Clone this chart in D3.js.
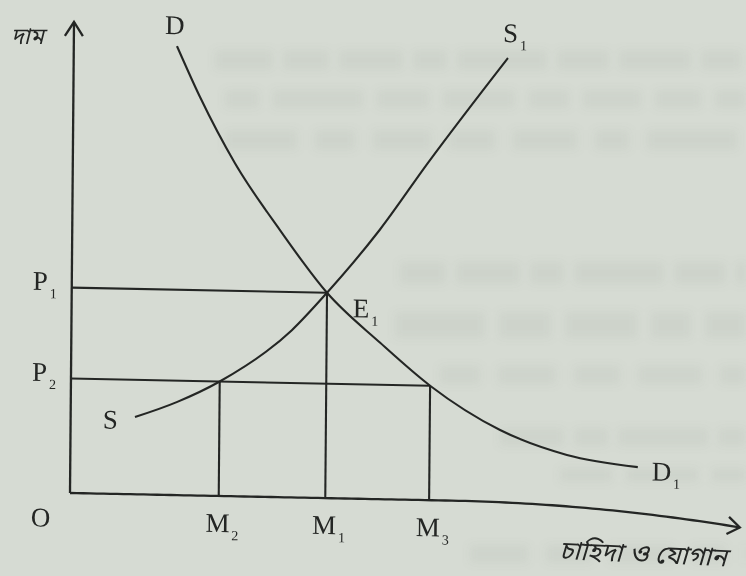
<!DOCTYPE html>
<html>
<head>
<meta charset="utf-8">
<script src="https://cdn.jsdelivr.net/npm/d3@7"></script>
<style>
  html, body { margin: 0; padding: 0; background: #d6dbd3; }
  svg { display: block; }
</style>
</head>
<body>
<svg id="chart" width="746" height="576"></svg>
<script>
// Market diagram: demand curve D–D1, supply curve S–S1, equilibrium E1.
// Quantity and price on a 0–100 scale.
const equilibriumQ = 38.1;   // M1
const equilibriumP = 43.6;   // P1
const lowPrice = 24.3;       // P2
const supplyAtLowPrice = 22.2;  // M2
const demandAtLowPrice = 53.6;  // M3

const demandQ = [15.4, 18.9, 24.2, 31.0, equilibriumQ, 46.1, demandAtLowPrice, 64.1, 74.1, 84.7];
const demandP = [95.3, 84.6, 70.7, 56.7, equilibriumP, 33.2, lowPrice, 15.2, 10.2, 7.9];

const supplyQ = [9.6, 15.9, supplyAtLowPrice, 32.9, equilibriumQ, 45.9, 53.0, 64.8];
const supplyP = [16.4, 19.8, lowPrice, 35.5, equilibriumP, 57.2, 71.6, 94.2];

const priceLabels = [
  { base: "P", sub: "1", value: equilibriumP, to: equilibriumQ },
  { base: "P", sub: "2", value: lowPrice, to: demandAtLowPrice }
];
const quantityLabels = [
  { base: "M", sub: "2", value: supplyAtLowPrice, top: lowPrice },
  { base: "M", sub: "1", value: equilibriumQ, top: equilibriumP },
  { base: "M", sub: "3", value: demandAtLowPrice, top: lowPrice }
];
const axisTitleY = "দাম";
const axisTitleX = "চাহিদা ও যোগান";

const ink = "#242624";
const serif = "'Liberation Serif', 'Times New Roman', serif";
const bengali = "'Noto Sans Bengali', 'Lohit Bengali', 'Noto Sans', sans-serif";

const svg = d3.select("#chart");

// faint show-through of the printed lines on the other side of the sheet
const defs = svg.append("defs");
defs.append("filter").attr("id", "soft")
  .attr("x", "-10%").attr("y", "-50%").attr("width", "120%").attr("height", "200%")
  .append("feGaussianBlur").attr("stdDeviation", 4.5);
const bleedRows = [
  // [start x, top y, height]
  [215, 50, 20], [225, 90, 18], [225, 130, 20],
  [400, 262, 22], [395, 312, 26], [440, 366, 18],
  [500, 428, 18], [560, 468, 14], [470, 545, 18]
];
const wordWidths = [58, 34, 72, 46, 90, 40, 64, 52];
const bleedWords = [];
bleedRows.forEach(([x0, y0, h], r) => {
  let xx = x0, k = r;
  while (xx < 746) {
    const w = wordWidths[k % wordWidths.length];
    bleedWords.push([xx, y0, Math.min(w, 746 - xx), h]);
    xx += w + 10 + (k % 3) * 4;
    k += 3;
  }
});
svg.append("g").attr("filter", "url(#soft)")
  .selectAll("rect").data(bleedWords).join("rect")
  .attr("x", d => d[0]).attr("y", d => d[1])
  .attr("width", d => d[2]).attr("height", d => d[3])
  .attr("fill", "#8c948a").attr("opacity", 0.1);

const x = d3.scaleLinear().domain([0, 100]).range([0, 670]);
const y = d3.scaleLinear().domain([0, 100]).range([0, -471]);

// the printed figure sits slightly sheared on the page
const g = svg.append("g")
  .attr("transform", "translate(70,493) matrix(1,0.02,-0.0085,1,0,0)");

const line = d3.line().x(d => x(d[0])).y(d => y(d[1])).curve(d3.curveMonotoneX);

// guide lines from the axes to the curves
g.selectAll("line.price").data(priceLabels).join("line")
  .attr("class", "price")
  .attr("x1", x(0)).attr("x2", d => x(d.to))
  .attr("y1", d => y(d.value)).attr("y2", d => y(d.value))
  .attr("stroke", ink).attr("stroke-width", 2.1);
g.selectAll("line.qty").data(quantityLabels).join("line")
  .attr("class", "qty")
  .attr("x1", d => x(d.value)).attr("x2", d => x(d.value))
  .attr("y1", y(0)).attr("y2", d => y(d.top))
  .attr("stroke", ink).attr("stroke-width", 2.1);

// curves
g.append("path").datum(d3.zip(demandQ, demandP))
  .attr("d", line).attr("fill", "none").attr("stroke", ink).attr("stroke-width", 2.1);
g.append("path").datum(d3.zip(supplyQ, supplyP))
  .attr("d", line).attr("fill", "none").attr("stroke", ink).attr("stroke-width", 2.1);

// vertical axis with open arrowhead
const yTop = y(100);
g.append("line").attr("x1", 0).attr("x2", 0).attr("y1", 0).attr("y2", yTop)
  .attr("stroke", ink).attr("stroke-width", 2.3);
g.append("path")
  .attr("d", `M${-9},${yTop + 14} L0,${yTop} L${9},${yTop + 14}`)
  .attr("fill", "none").attr("stroke", ink).attr("stroke-width", 2.3);

// horizontal axis, bending where the page curls
const curl = u => 0.00025 * Math.max(0, u - 380) ** 2;
const axisPts = d3.range(0, 100.01, 1).map(q => [x(q), curl(x(q))]);
g.append("path").attr("d", d3.line()(axisPts))
  .attr("fill", "none").attr("stroke", ink).attr("stroke-width", 2.3);
{
  const [ex, ey] = axisPts[axisPts.length - 1];
  const [px, py] = axisPts[axisPts.length - 3];
  const ang = Math.atan2(ey - py, ex - px);
  const len = 15, spread = 0.62;
  const a1 = [ex - len * Math.cos(ang - spread), ey - len * Math.sin(ang - spread)];
  const a2 = [ex - len * Math.cos(ang + spread), ey - len * Math.sin(ang + spread)];
  g.append("path").attr("d", `M${a1} L${ex},${ey} L${a2}`)
    .attr("fill", "none").attr("stroke", ink).attr("stroke-width", 2.3);
}

// letter labels with subscripts
function label(sel, base, sub, px, py, size = 27) {
  const t = sel.append("text").attr("x", px).attr("y", py)
    .attr("font-family", serif).attr("font-size", size).attr("fill", ink);
  t.append("tspan").text(base);
  if (sub) t.append("tspan").attr("font-size", size * 0.52).attr("dy", 8).attr("dx", 2).text(sub);
}

priceLabels.forEach(d => label(g, d.base, d.sub, -39, y(d.value) + 3));
quantityLabels.forEach(d => label(g, d.base, d.sub, x(d.value) - 13, 36));
label(g, "O", null, -39, 34);
label(g, "E", "1", x(equilibriumQ) + 26, y(equilibriumP) + 24);
label(g, "D", null, x(demandQ[0]) - 12, y(demandP[0]) - 12);
label(g, "D", "1", x(demandQ[demandQ.length - 1]) + 14, y(demandP[demandP.length - 1]) + 13);
label(g, "S", null, x(supplyQ[0]) - 32, y(supplyP[0]) + 12);
label(g, "S", "1", x(supplyQ[supplyQ.length - 1]) - 5, y(supplyP[supplyP.length - 1]) - 16);

// axis titles
svg.append("text").attr("x", 11).attr("y", 44)
  .attr("font-family", bengali).attr("font-style", "italic")
  .attr("font-size", 23).attr("fill", ink).text(axisTitleY);
svg.append("text").attr("transform", "translate(559,559) rotate(2.5)")
  .attr("font-family", bengali).attr("font-style", "italic")
  .attr("font-size", 26).attr("fill", ink).text(axisTitleX);
</script>
</body>
</html>
